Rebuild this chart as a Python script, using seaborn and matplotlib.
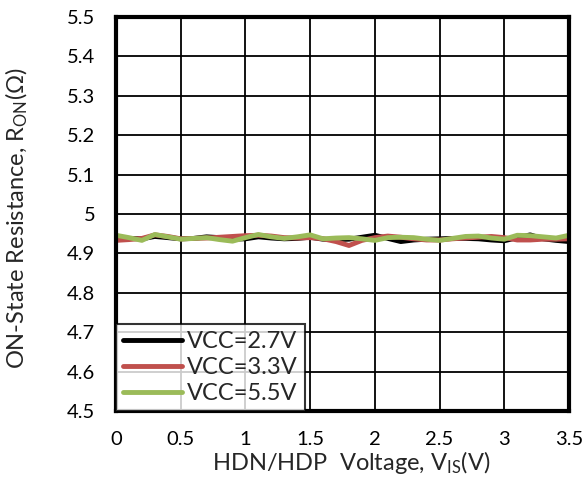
import numpy as np
import pandas as pd
import matplotlib
matplotlib.use("Agg")
import matplotlib.pyplot as plt
from matplotlib.ticker import FuncFormatter
import seaborn as sns

# Switch input voltage sweep (V)
v_is = [0.0, 0.1, 0.2, 0.3, 0.4, 0.5, 0.6, 0.7, 0.8, 0.9,
        1.0, 1.1, 1.2, 1.3, 1.4, 1.5, 1.6, 1.7, 1.8, 1.9,
        2.0, 2.1, 2.2, 2.3, 2.4, 2.5, 2.6, 2.7, 2.8, 2.9,
        3.0, 3.1, 3.2, 3.3, 3.4, 3.5]

# ON-resistance (ohm) for each supply voltage
ron_2v7 = [4.938, 4.938, 4.937, 4.943, 4.940, 4.937, 4.938, 4.942, 4.940, 4.936,
           4.937, 4.942, 4.939, 4.937, 4.938, 4.941, 4.936, 4.935, 4.936, 4.941,
           4.946, 4.938, 4.930, 4.934, 4.936, 4.937, 4.938, 4.938, 4.937, 4.934,
           4.932, 4.940, 4.947, 4.937, 4.933, 4.930]
ron_3v3 = [4.933, 4.935, 4.938, 4.947, 4.943, 4.937, 4.938, 4.939, 4.941, 4.943,
           4.945, 4.946, 4.944, 4.940, 4.939, 4.940, 4.937, 4.930, 4.920, 4.933,
           4.940, 4.944, 4.941, 4.937, 4.934, 4.934, 4.937, 4.939, 4.941, 4.943,
           4.940, 4.934, 4.934, 4.936, 4.936, 4.937]
ron_5v5 = [4.946, 4.940, 4.933, 4.948, 4.942, 4.936, 4.938, 4.940, 4.935, 4.931,
           4.940, 4.948, 4.942, 4.938, 4.942, 4.947, 4.937, 4.939, 4.940, 4.937,
           4.933, 4.940, 4.941, 4.940, 4.936, 4.933, 4.938, 4.943, 4.944, 4.939,
           4.936, 4.946, 4.945, 4.942, 4.939, 4.946]

series_names = ["VCC=2.7V", "VCC=3.3V", "VCC=5.5V"]
series_colors = ["#000000", "#C0504D", "#9BBB59"]

x_ticks = [0, 0.5, 1, 1.5, 2, 2.5, 3, 3.5]
y_ticks = [4.5, 4.6, 4.7, 4.8, 4.9, 5.0, 5.1, 5.2, 5.3, 5.4, 5.5]

df = pd.concat([
    pd.DataFrame({"V": v_is, "R": vals, "Supply": name})
    for name, vals in zip(series_names, [ron_2v7, ron_3v3, ron_5v5])
])

sns.set_theme(style="white")
plt.rcParams["font.family"] = ["Lato", "DejaVu Sans"]
plt.rcParams["mathtext.fontset"] = "custom"
plt.rcParams["mathtext.rm"] = "Lato"
plt.rcParams["mathtext.it"] = "Lato"

fig = plt.figure(figsize=(5.85, 4.79), dpi=100)
ax = fig.add_axes([0.1983, 0.142, 0.7744, 0.8225])

sns.lineplot(data=df, x="V", y="R", hue="Supply", hue_order=series_names,
             palette=series_colors, linewidth=3.5, ax=ax, legend=True)

ax.set_xlim(0, 3.5)
ax.set_ylim(4.5, 5.5)
ax.set_xticks(x_ticks)
ax.set_yticks(y_ticks)
ax.xaxis.set_major_formatter(FuncFormatter(lambda v, p: f"{v:g}"))
ax.yaxis.set_major_formatter(FuncFormatter(lambda v, p: f"{v:g}"))
ax.tick_params(axis="both", length=0, labelsize=14.5, colors="#000000")
ax.tick_params(axis="y", pad=15)
ax.tick_params(axis="x", pad=14.5)

ax.grid(True, color="#000000", linewidth=1.3)
for s in ax.spines.values():
    s.set_color("#000000")
    s.set_linewidth(3.0)

ax.set_xlabel(r"HDN/HDP  Voltage, V$_{\mathregular{IS}}$(V)", fontsize=17)
ax.xaxis.set_label_coords(0.519, -0.097)
ax.set_ylabel(r"ON-State Resistance, R$_{\mathregular{ON}}$($\Omega$)", fontsize=17)
ax.yaxis.set_label_coords(-0.19, 0.49)

leg = ax.legend(loc="lower left", frameon=True, fancybox=False, fontsize=17,
                borderaxespad=0.0, handlelength=2.5, handletextpad=0.2,
                labelspacing=0.2, borderpad=0.3)
leg.get_frame().set_edgecolor("#000000")
leg.get_frame().set_linewidth(1.5)
for line in leg.get_lines():
    line.set_linewidth(3.5)

fig.savefig("out.png", dpi=100, facecolor="white")
